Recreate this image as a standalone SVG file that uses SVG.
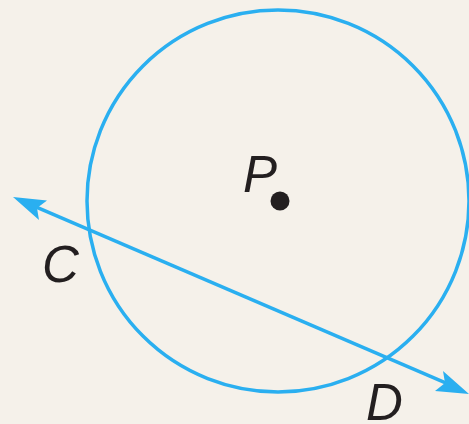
<svg xmlns="http://www.w3.org/2000/svg" width="469" height="424" viewBox="0 0 469 424">
<style>
.blue{fill:none;stroke:#2aaff0;stroke-width:3.5}
.lbl{font-family:"Liberation Sans",Arial,sans-serif;font-style:italic;font-size:51px;fill:#231f20}
.head{fill:#2aaff0}
</style>
<rect width="469" height="424" fill="#f5f1ea"/>
<g id="circle">
<circle class="blue" cx="278" cy="201" r="191"/>
</g>
<g id="center-P">
<circle cx="280" cy="201" r="9.5" fill="#231f20"/>
<text class="lbl" x="243" y="192">P</text>
</g>
<g id="connectors">
<line class="blue" x1="30" y1="204.3" x2="452" y2="385.7"/>
<path class="head" d="M13,197 L47,200.5 L37,208 L39,220 Z"/>
<path class="head" d="M469,394 L435,391 L445,383 L443,371 Z"/>
</g>
<g id="point-C">
<text class="lbl" x="42" y="282">C</text>
</g>
<g id="point-D">
<text class="lbl" x="366" y="420">D</text>
</g>
</svg>
